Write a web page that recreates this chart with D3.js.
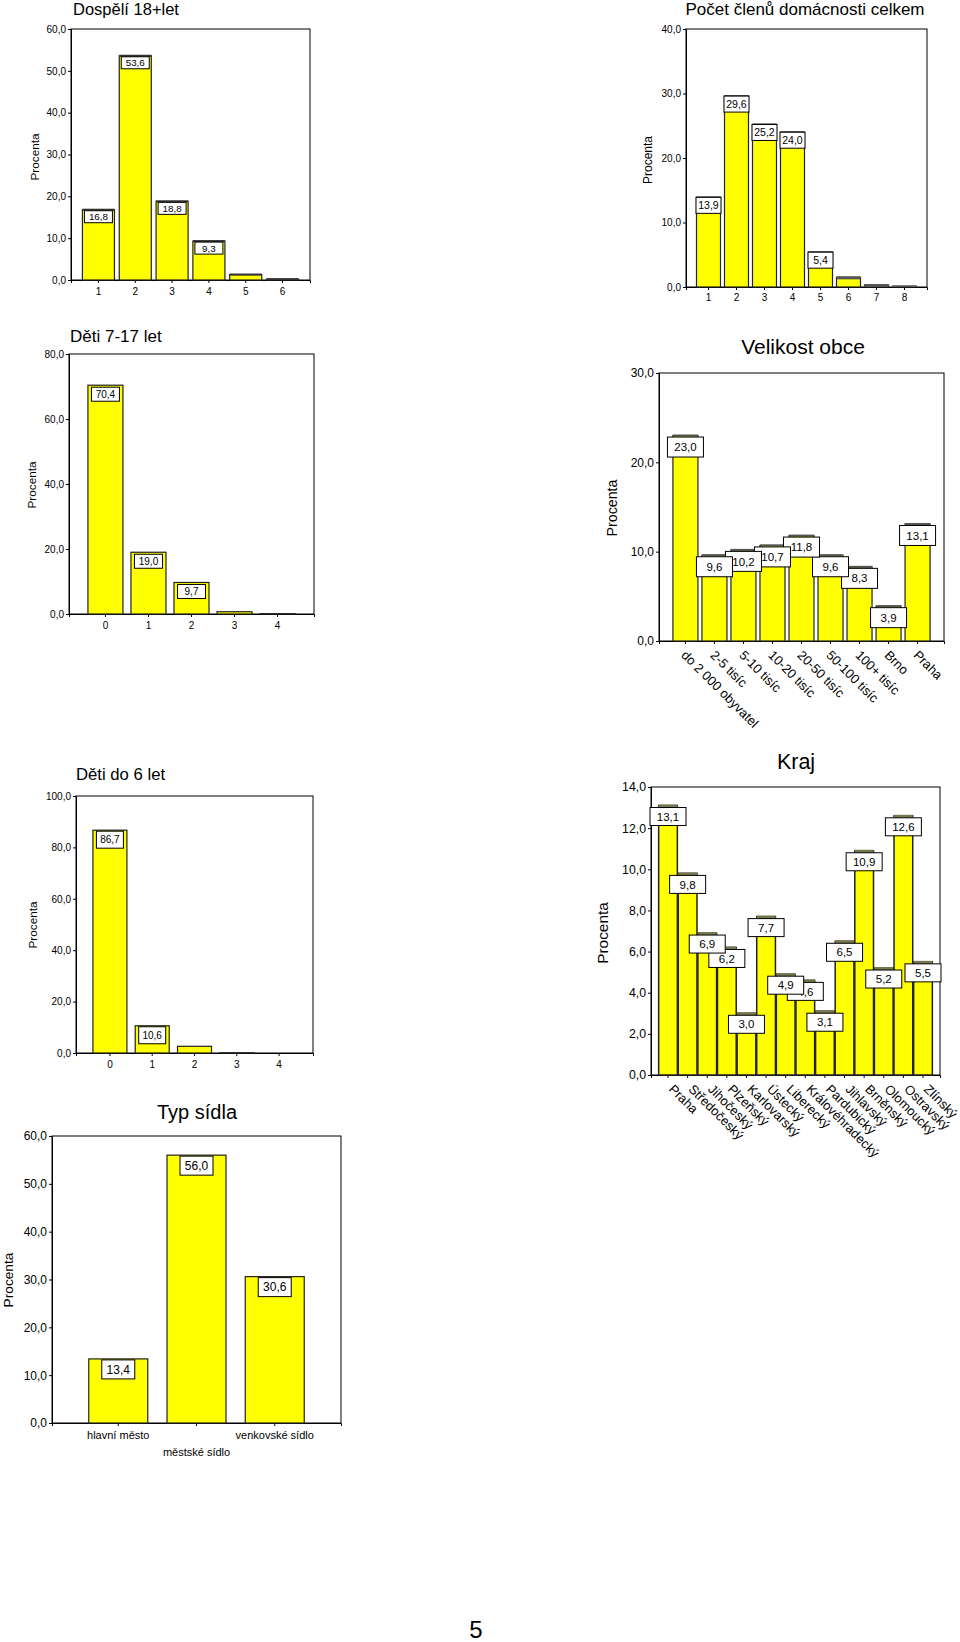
<!DOCTYPE html>
<html><head><meta charset="utf-8">
<script src="https://cdn.jsdelivr.net/npm/d3@7"></script>
<style>
html,body{margin:0;padding:0;background:#fff;}
svg{display:block;font-family:"Liberation Sans",Arial,sans-serif;}
</style></head>
<body>
<svg id="c" width="960" height="1642"></svg>
<script>
// ---------- DATA ----------
const dospeliCats = ["1","2","3","4","5","6"];
const dospeliVals = [16.8, 53.6, 18.8, 9.3, 1.3, 0.2];
const dospeliTicks = [0,10,20,30,40,50,60];

const pocetCats = ["1","2","3","4","5","6","7","8"];
const pocetVals = [13.9, 29.6, 25.2, 24.0, 5.4, 1.5, 0.3, 0.1];
const pocetTicks = [0,10,20,30,40];

const deti717Cats = ["0","1","2","3","4"];
const deti717Vals = [70.4, 19.0, 9.7, 0.7, 0.1];
const deti717Ticks = [0,20,40,60,80];

const velikostCats = ["do 2 000 obyvatel","2-5 tisíc","5-10 tisíc","10-20 tisíc","20-50 tisíc","50-100 tisíc","100+ tisíc","Brno","Praha"];
const velikostVals = [23.0, 9.6, 10.2, 10.7, 11.8, 9.6, 8.3, 3.9, 13.1];
const velikostTicks = [0,10,20,30];

const deti6Cats = ["0","1","2","3","4"];
const deti6Vals = [86.7, 10.6, 2.6, 0.1, 0.0];
const deti6Ticks = [0,20,40,60,80,100];

const krajCats = ["Praha","Středočeský","Jihočeský","Plzeňský","Karlovarský","Ústecký","Liberecký","Královéhradecký","Pardubický","Jihlavský","Brněnský","Olomoucký","Ostravský","Zlínský"];
const krajVals = [13.1, 9.8, 6.9, 6.2, 3.0, 7.7, 4.9, 4.6, 3.1, 6.5, 10.9, 5.2, 12.6, 5.5];
const krajTicks = [0,2,4,6,8,10,12,14];

const typCats = ["hlavní město","městské sídlo","venkovské sídlo"];
const typVals = [13.4, 56.0, 30.6];
const typTicks = [0,10,20,30,40,50,60];

const yTitle = "Procenta";
const pageNumber = "5";

// ---------- DRAWING ----------
const svg = d3.select("#c");
const fmt = v => d3.format(".1f")(v).replace(".", ",");

function panel(c){
  const g = svg.append("g");
  const x = d3.scaleBand().domain(c.cats).range([c.l, c.r]).paddingInner(c.pi).paddingOuter(c.po);
  const y = d3.scaleLinear().domain([0, c.ticks[c.ticks.length-1]]).range([c.b, c.t]);

  // frame
  g.append("rect").attr("x", c.l).attr("y", c.t).attr("width", c.r-c.l).attr("height", c.b-c.t)
    .attr("fill","none").attr("stroke","#000").attr("stroke-width",1);

  // y axis
  const ya = g.append("g").attr("transform", `translate(${c.l},0)`)
    .call(d3.axisLeft(y).tickValues(c.ticks).tickSize(3).tickPadding(2).tickFormat(fmt));
  ya.select(".domain").attr("stroke","#000");
  ya.selectAll("text").attr("font-size", c.tickFont).attr("font-family","Liberation Sans, Arial, sans-serif").attr("fill","#000");

  // x axis
  const xa = g.append("g").attr("transform", `translate(0,${c.b})`)
    .call(d3.axisBottom(x).tickSize(3).tickFormat(""));
  xa.select(".domain").attr("stroke","#000");

  // bars
  g.selectAll(".bar").data(c.vals).join("rect")
    .attr("x", (d,i)=>x(c.cats[i])).attr("width", x.bandwidth())
    .attr("y", d=>y(d)).attr("height", d=>c.b - y(d))
    .attr("fill","#ffff00").attr("stroke","#222").attr("stroke-width", c.sw || 1);

  if (c.cap){
    g.selectAll(".cap").data(c.vals).join("rect")
      .attr("x", (d,i)=>x(c.cats[i])).attr("width", x.bandwidth())
      .attr("y", d=>y(d)-1).attr("height", d=> Math.min(c.cap.h, c.b - y(d) + 1))
      .attr("fill", c.cap.color);
  }

  // value labels (drawn right-to-left so left boxes sit on top)
  const idx = c.vals.map((d,i)=>i).filter(i=>c.vals[i] >= 3).reverse();
  idx.forEach(i=>{
    const cx = x(c.cats[i]) + x.bandwidth()/2;
    const top = y(c.vals[i]) + c.box.off;
    g.append("rect").attr("x", cx - c.box.w/2).attr("y", top).attr("width", c.box.w).attr("height", c.box.h)
      .attr("fill","#fff").attr("stroke","#000").attr("stroke-width",1);
    g.append("text").attr("x", cx).attr("y", top + c.box.h/2).attr("dy","0.36em")
      .attr("text-anchor","middle").attr("font-size", c.box.font).text(fmt(c.vals[i]));
  });

  // category labels
  c.cats.forEach((cat,i)=>{
    const cx = x(cat) + x.bandwidth()/2;
    if (c.xmode === "rot"){
      g.append("text").attr("transform", `translate(${cx+1+c.rdx},${c.b+5+c.rdy}) rotate(45)`)
        .attr("dy","0.75em").attr("font-size", c.xFont).text(cat);
    } else if (c.xmode === "stagger"){
      g.append("text").attr("x", cx).attr("y", c.b + (i%2 ? 33 : 16))
        .attr("text-anchor","middle").attr("font-size", c.xFont).text(cat);
    } else {
      g.append("text").attr("x", cx).attr("y", c.b + c.xDy)
        .attr("text-anchor","middle").attr("font-size", c.xFont).text(cat);
    }
  });

  // title
  g.append("text").attr("x", c.titleX).attr("y", c.titleY).attr("text-anchor", c.titleAnchor)
    .attr("font-size", c.titleSize).text(c.title);

  // y title
  g.append("text").attr("transform", `translate(${c.ylX},${c.ylY}) rotate(-90)`)
    .attr("text-anchor","middle").attr("font-size", c.ylSize).text(yTitle);
}

panel({cats:dospeliCats, vals:dospeliVals, ticks:dospeliTicks, l:71, t:29, r:310, b:280, pi:0.13, po:0.31,
  tickFont:10, xFont:10, xmode:"flat", xDy:15, box:{w:28,h:12,font:9.8,off:1}, cap:{h:2,color:"#333"}, sw:1.2,
  title:"Dospělí 18+let", titleX:73, titleY:15, titleAnchor:"start", titleSize:16.5,
  ylX:39, ylY:157, ylSize:11.8});

panel({cats:pocetCats, vals:pocetVals, ticks:pocetTicks, l:686, t:29, r:927, b:287, pi:0.143, po:0.375,
  tickFont:10, xFont:10, xmode:"flat", xDy:14, box:{w:25,h:16,font:10.5,off:0}, cap:{h:3,color:"#555"}, sw:1.2,
  title:"Počet členů domácnosti celkem", titleX:805, titleY:15, titleAnchor:"middle", titleSize:17,
  ylX:652, ylY:160, ylSize:12});

panel({cats:deti717Cats, vals:deti717Vals, ticks:deti717Ticks, l:69, t:354, r:314, b:614, pi:0.186, po:0.44,
  tickFont:10, xFont:10, xmode:"flat", xDy:15, box:{w:28,h:14,font:10,off:2}, sw:1.2,
  title:"Děti 7-17 let", titleX:70, titleY:342, titleAnchor:"start", titleSize:17,
  ylX:36, ylY:485, ylSize:11.8});

panel({cats:velikostCats, vals:velikostVals, ticks:velikostTicks, l:659, t:373, r:944, b:641, pi:0.138, po:0.48,
  tickFont:12, xFont:13, xmode:"rot", rdx:1, rdy:3, box:{w:36,h:20,font:11.5,off:1.5}, cap:{h:2,color:"#555"}, sw:1.2,
  title:"Velikost obce", titleX:803, titleY:354, titleAnchor:"middle", titleSize:21,
  ylX:617, ylY:508, ylSize:14.2});

panel({cats:deti6Cats, vals:deti6Vals, ticks:deti6Ticks, l:76, t:796, r:313, b:1053, pi:0.196, po:0.4,
  tickFont:10, xFont:10, xmode:"flat", xDy:15, box:{w:27,h:17,font:10,off:1}, sw:1.2,
  title:"Děti do 6 let", titleX:76, titleY:780, titleAnchor:"start", titleSize:16.7,
  ylX:37, ylY:925, ylSize:11.8});

panel({cats:krajCats, vals:krajVals, ticks:krajTicks, l:651, t:787, r:940, b:1075, pi:0.046, po:0.39,
  tickFont:12.3, xFont:13, xmode:"rot", rdx:6, rdy:3, box:{w:36,h:18,font:11.5,off:2}, cap:{h:3,color:"#77774f"}, sw:1.5,
  title:"Kraj", titleX:796, titleY:769, titleAnchor:"middle", titleSize:21.5,
  ylX:608, ylY:933, ylSize:15.4});

panel({cats:typCats, vals:typVals, ticks:typTicks, l:52, t:1136, r:341, b:1423, pi:0.246, po:0.47,
  tickFont:12, xFont:11, xmode:"stagger", box:{w:33,h:19,font:12,off:1}, sw:1.2,
  title:"Typ sídla", titleX:197, titleY:1119, titleAnchor:"middle", titleSize:20,
  ylX:13, ylY:1280, ylSize:13.7});

svg.append("text").attr("x",476).attr("y",1638).attr("text-anchor","middle")
  .attr("font-size",24).text(pageNumber);
</script>
</body></html>
